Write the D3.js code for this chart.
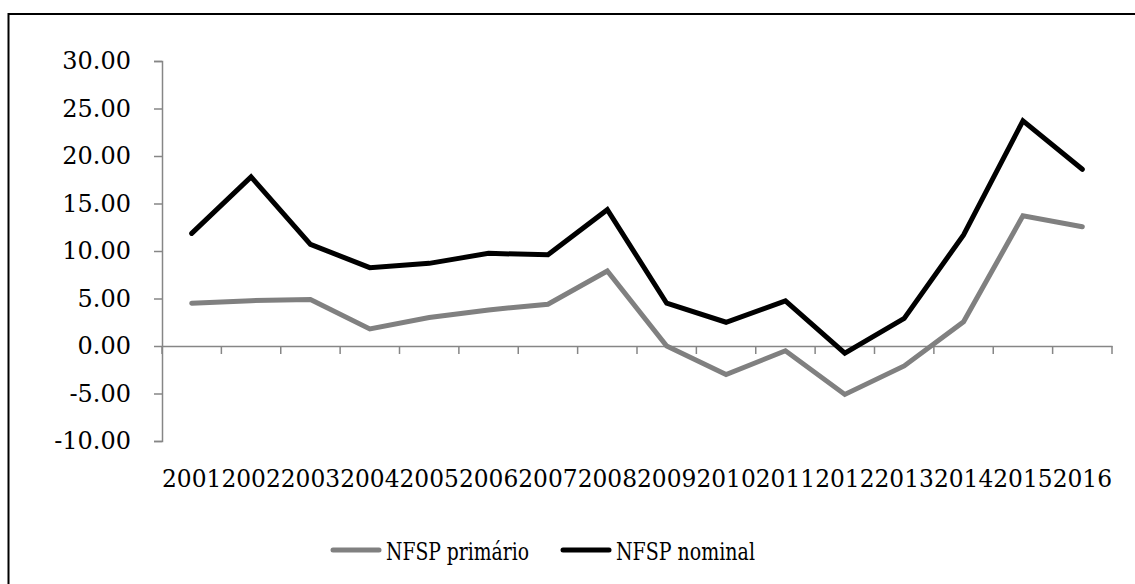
<!DOCTYPE html>
<html>
<head>
<meta charset="utf-8">
<script src="https://cdn.jsdelivr.net/npm/d3@7"></script>
<style>
  body { margin: 0; background: #fff; }
  text { font-family: "DejaVu Serif", "Liberation Serif", serif; fill: #000; }
</style>
</head>
<body>
<div id="chart"></div>
<script>
const years = ["2001", "2002", "2003", "2004", "2005", "2006", "2007", "2008",
    "2009", "2010", "2011", "2012", "2013", "2014", "2015", "2016"];
const primario = [4.5, 4.77, 4.9, 1.8, 3.0, 3.8, 4.4, 7.9,
    0.0, -3.0, -0.5, -5.1, -2.1, 2.55, 13.7, 12.55];
const nominal = [11.85, 17.8, 10.7, 8.25, 8.7, 9.75, 9.6, 14.35,
    4.5, 2.5, 4.75, -0.75, 2.9, 11.7, 23.7, 18.6];
const yTicks = [-10, -5, 0, 5, 10, 15, 20, 25, 30];
const seriesNames = ["NFSP primário", "NFSP nominal"];
const seriesColors = ["#808080", "#000000"];

const width = 1135, height = 584;
const margin = {top: 61, right: 23, bottom: 143, left: 162};

// plain hyphen for negatives, like the spreadsheet
const fmt = d3.formatLocale({decimal: ".", thousands: ",", grouping: [3],
    currency: ["", ""], minus: "-"}).format(".2f");

const svg = d3.select("#chart").append("svg")
    .attr("width", width)
    .attr("height", height);

// outer frame (right/bottom edges fall outside the picture)
svg.append("rect")
    .attr("x", 8.5).attr("y", 14)
    .attr("width", width + 20).attr("height", height + 20)
    .attr("fill", "none")
    .attr("stroke", "#000")
    .attr("stroke-width", 2);

const x = d3.scaleBand()
    .domain(years)
    .range([margin.left, width - margin.right]);

const y = d3.scaleLinear()
    .domain([-10, 30])
    .range([height - margin.bottom, margin.top]);

const axisColor = "#868686";

// y axis
const gy = svg.append("g")
    .attr("transform", "translate(" + margin.left + ",0)")
    .call(d3.axisLeft(y).tickValues(yTicks).tickSize(8).tickPadding(23)
        .tickFormat(fmt));
gy.select(".domain").attr("stroke", axisColor).attr("stroke-width", 1.5);
gy.selectAll(".tick line").attr("stroke", axisColor).attr("stroke-width", 1.5);
gy.selectAll("text").attr("font-size", 24).attr("fill", "#000")
    .attr("font-family", "DejaVu Serif");

// x axis at zero
const gx = svg.append("g")
    .attr("transform", "translate(0," + y(0) + ")")
    .call(d3.axisBottom(x).tickSize(0).tickFormat(""));
gx.select(".domain").attr("stroke", axisColor).attr("stroke-width", 1.5);

// category boundary ticks
const bounds = years.map(d => x(d)).concat([x.range()[1]]);
svg.append("g").selectAll("line")
    .data(bounds)
    .enter().append("line")
    .attr("x1", d => d).attr("x2", d => d)
    .attr("y1", y(0)).attr("y2", y(0) + 8)
    .attr("stroke", axisColor)
    .attr("stroke-width", 1.5);

// year labels below the plot
svg.append("g").selectAll("text")
    .data(years)
    .enter().append("text")
    .attr("x", d => x(d) + x.bandwidth() / 2)
    .attr("y", 487)
    .attr("text-anchor", "middle")
    .attr("font-size", 23.5)
    .attr("textLength", x.bandwidth())
    .attr("lengthAdjust", "spacingAndGlyphs")
    .text(d => d);

const line = d3.line()
    .x((d, i) => x(years[i]) + x.bandwidth() / 2)
    .y(d => y(d));

[primario, nominal].forEach((vals, i) => {
    svg.append("path")
        .datum(vals)
        .attr("d", line)
        .attr("fill", "none")
        .attr("stroke", seriesColors[i])
        .attr("stroke-width", 5)
        .attr("stroke-linecap", "round")
        .attr("stroke-linejoin", "miter");
});

// legend
const legendX = [333, 563];
const legendW = [143, 139];
const legend = svg.append("g");
seriesNames.forEach((name, i) => {
    legend.append("line")
        .attr("x1", legendX[i]).attr("x2", legendX[i] + 46)
        .attr("y1", 550).attr("y2", 550)
        .attr("stroke", seriesColors[i])
        .attr("stroke-width", 5)
        .attr("stroke-linecap", "round");
    legend.append("text")
        .attr("x", legendX[i] + 53)
        .attr("y", 560)
        .attr("font-size", 25)
        .attr("textLength", legendW[i])
        .attr("lengthAdjust", "spacingAndGlyphs")
        .text(name);
});
</script>
</body>
</html>
